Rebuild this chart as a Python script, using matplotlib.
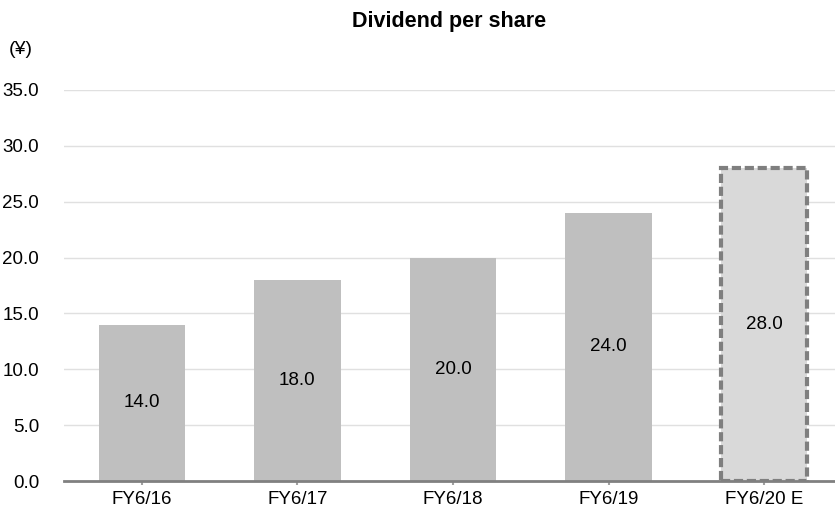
import matplotlib
matplotlib.use("Agg")
import matplotlib.pyplot as plt

plt.rcParams['font.family'] = ['Liberation Sans', 'DejaVu Sans']

# data
years = ["FY6/16", "FY6/17", "FY6/18", "FY6/19", "FY6/20 E"]
dividend = [14.0, 18.0, 20.0, 24.0, 28.0]
estimate = [False, False, False, False, True]

fig = plt.figure(figsize=(8.35, 5.19), dpi=100)
ax = fig.add_axes([64 / 835, 1 - 481 / 519, (842 - 64) / 835, (481 - 90) / 519])

xs = list(range(len(years)))
for x, v, est in zip(xs, dividend, estimate):
    if est:
        ax.bar(x, v, width=0.555, color="#d9d9d9", edgecolor="#7f7f7f",
               linewidth=3, linestyle=(0, (2.2, 0.9)), zorder=3)
    else:
        ax.bar(x, v, width=0.555, color="#bfbfbf", zorder=3)
    ax.text(x, v / 2, "%.1f" % v, ha="center", va="center", fontsize=13.5, zorder=4)

ax.set_xlim(-0.5, len(years) - 0.5)
ax.set_ylim(0, 35)
ax.set_yticks([0, 5, 10, 15, 20, 25, 30, 35])
ax.set_yticklabels(["%.1f" % t for t in ax.get_yticks()], fontsize=13.5)
ax.set_xticks(xs)
ax.set_xticklabels(years, fontsize=13.5)
ax.yaxis.grid(True, color="#e0e0e0", linewidth=1, zorder=0)
ax.set_axisbelow(True)

for s in ["top", "right", "left"]:
    ax.spines[s].set_visible(False)
ax.spines["bottom"].set_color("#808080")
ax.spines["bottom"].set_linewidth(2)
ax.spines["bottom"].set_zorder(5)
ax.tick_params(axis="y", length=0, pad=18)
ax.tick_params(axis="x", length=3, width=1.5, color="#a0a0a0", pad=4)

fig.text(449 / 835, 1 - 22 / 519, "Dividend per share", ha="center", va="center",
         fontsize=15.5, fontweight="bold")
fig.text(9 / 835, 1 - 50 / 519, "(¥)", ha="left", va="center", fontsize=14)

fig.savefig("out.png", dpi=100)
